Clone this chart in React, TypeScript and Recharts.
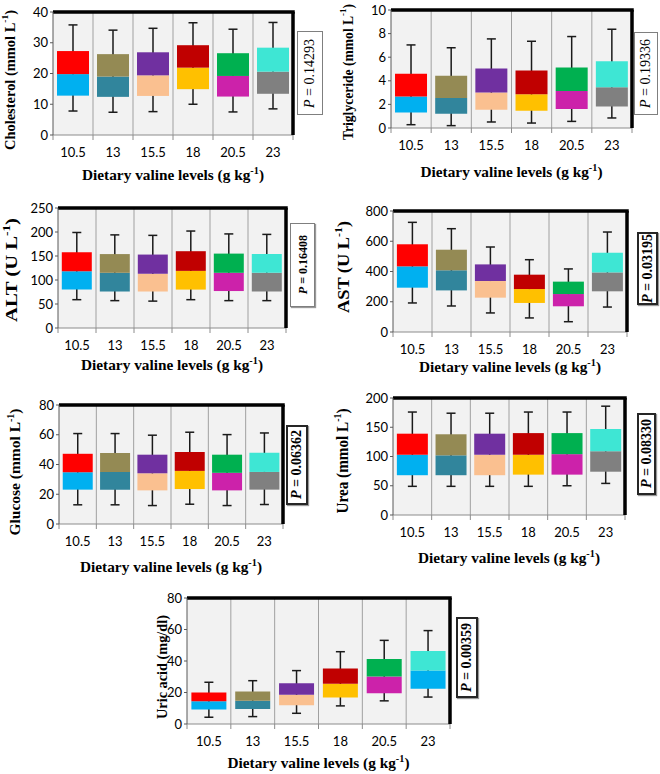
import React from "react";
import { Bar, CartesianGrid, Cell, ComposedChart, ReferenceArea, XAxis, YAxis } from "recharts";

const levels = ["10.5", "13", "15.5", "18", "20.5", "23"];
const upperColors = ["#ff0000", "#948a54", "#7030a0", "#c00000", "#00b050", "#3ee6d4"];
const lowerColors = ["#00b0f0", "#31859c", "#fac090", "#ffc000", "#cc22aa", "#808080"];
const uricLowerColors = ["#00b0f0", "#31859c", "#fac090", "#ffc000", "#cc22aa", "#00b0f0"];

// Cholesterol (mmol L-1)
const cholMin = [7.8, 7.4, 7.6, 10.0, 7.5, 8.5];
const cholQ1 = [12.8, 12.4, 12.7, 14.9, 12.5, 13.4];
const cholMed = [19.8, 19.0, 19.4, 21.9, 19.2, 20.6];
const cholQ3 = [27.3, 26.3, 26.9, 29.2, 26.6, 28.4];
const cholMax = [35.8, 34.1, 34.7, 36.5, 34.4, 36.6];

// Triglyceride (mmol L-1)
const trigMin = [0.28, 0.2, 0.51, 0.42, 0.56, 0.85];
const trigQ1 = [1.32, 1.21, 1.55, 1.46, 1.6, 1.83];
const trigMed = [2.68, 2.54, 3.01, 2.87, 3.13, 3.46];
const trigQ3 = [4.6, 4.42, 5.04, 4.87, 5.13, 5.66];
const trigMax = [7.04, 6.8, 7.55, 7.35, 7.75, 8.37];

// ALT (U L-1)
const altMin = [59, 57, 56, 59, 57, 57];
const altQ1 = [80, 76, 76, 80, 77, 76];
const altMed = [118, 115, 113, 119, 115, 115];
const altQ3 = [158, 154, 153, 160, 155, 154];
const altMax = [199, 194, 193, 202, 196, 195];

// AST (U L-1)
const astMin = [192, 172, 126, 93, 68, 165];
const astQ1 = [293, 275, 227, 192, 170, 269];
const astMed = [434, 408, 337, 284, 251, 394];
const astQ3 = [580, 544, 447, 379, 333, 524];
const astMax = [725, 683, 562, 478, 417, 661];

// Glucose (mmol L-1)
const gluMin = [12.9, 12.9, 12.4, 13.3, 12.4, 13.1];
const gluQ1 = [23.1, 23.1, 22.6, 23.5, 22.6, 23.1];
const gluMed = [34.8, 35.0, 34.1, 35.7, 34.4, 35.0];
const gluQ3 = [47.2, 47.7, 46.6, 48.4, 46.6, 47.9];
const gluMax = [60.8, 60.8, 59.7, 61.7, 60.1, 61.2];

// Urea (mmol L-1)
const ureaMin = [49, 49, 49, 49, 50, 54];
const ureaQ1 = [68, 68, 68, 69, 69, 74];
const ureaMed = [103, 102, 103, 103, 104, 109];
const ureaQ3 = [139, 138, 139, 140, 140, 147];
const ureaMax = [176, 174, 174, 176, 176, 186];

// Uric acid (mg/dl)
const uricMin = [4.3, 4.7, 6.8, 11.5, 14.7, 17.1];
const uricQ1 = [9.2, 9.6, 11.9, 16.9, 19.6, 22.4];
const uricMed = [14.5, 14.7, 18.6, 25.6, 30.1, 33.9];
const uricQ3 = [20.0, 20.7, 25.8, 35.2, 41.2, 46.3];
const uricMax = [26.5, 27.5, 33.9, 45.9, 53.1, 59.3];

const cholTicks = [0, 10, 20, 30, 40];
const trigTicks = [0, 2, 4, 6, 8, 10];
const altTicks = [0, 50, 100, 150, 200, 250];
const astTicks = [0, 200, 400, 600, 800];
const gluTicks = [0, 20, 40, 60, 80];
const ureaTicks = [0, 50, 100, 150, 200];
const uricTicks = [0, 20, 40, 60, 80];

const pValues = ["0.14293", "0.19336", "0.16408", "0.03195", "0.06362", "0.08330", "0.00359"];

const xTitle = "Dietary valine levels (g kg";
const serif = "'Liberation Serif', 'Times New Roman', serif";
const sans = "Lato, 'Open Sans', sans-serif";

function Whisker(props: any) {
  const { x, y, width, height } = props;
  if (x == null || y == null) return null;
  const cx = x + width / 2;
  const top = Math.min(y, y + height);
  const bottom = Math.max(y, y + height);
  return (
    <g stroke="#1a1a1a" strokeWidth={1.5}>
      <line x1={cx} x2={cx} y1={top} y2={bottom} />
      <line x1={cx - 4.5} x2={cx + 4.5} y1={top} y2={top} />
      <line x1={cx - 4.5} x2={cx + 4.5} y1={bottom} y2={bottom} />
    </g>
  );
}

// plot frame: category separators, bottom axis with boundary ticks, thick top/right border
function Frame(props: any) {
  const { x, y, width, height } = props;
  if (x == null || y == null) return null;
  const bottom = y + height;
  const n = levels.length;
  const xs = Array.from({ length: n + 1 }, (_, i) => x + (width * i) / n);
  return (
    <g>
      {xs.slice(1, n).map((sx, i) => (
        <line key={"s" + i} x1={sx} x2={sx} y1={y} y2={bottom} stroke="#a0a0a0" strokeWidth={1} />
      ))}
      <line x1={x} x2={x + width} y1={bottom} y2={bottom} stroke="#8c8c8c" strokeWidth={1} />
      {xs.map((sx, i) => (
        <line key={"t" + i} x1={sx} x2={sx} y1={bottom} y2={bottom + 5} stroke="#8c8c8c" strokeWidth={1} />
      ))}
      <line x1={x} x2={x + width + 1.75} y1={y} y2={y} stroke="#000" strokeWidth={3.5} />
      <line x1={x + width} x2={x + width} y1={y} y2={bottom} stroke="#000" strokeWidth={3.5} />
    </g>
  );
}

type Panel = {
  min: number[];
  q1: number[];
  med: number[];
  q3: number[];
  max: number[];
  ticks: number[];
  lower: string[];
  title: string;
  sup: boolean;
  titleSize: number;
  titleLen: number;
  titleY: number;
  p: string;
  pSize: number;
  pBold: boolean;
  pBorder: string;
  // layout
  L: number;
  T: number;
  R: number;
  B: number;
  chartLeft: number;
  titleX: number;
  xTitleOff: number;
  box: [number, number, number, number];
};

const panels: Panel[] = [
  {
    min: cholMin, q1: cholQ1, med: cholMed, q3: cholQ3, max: cholMax, ticks: cholTicks, lower: lowerColors,
    title: "Cholesterol (mmol L", sup: true, titleSize: 14, titleLen: 140, titleY: 80,
    p: pValues[0], pSize: 14, pBold: false, pBorder: "1px solid #7f7f7f",
    L: 53, T: 12, R: 293, B: 135, chartLeft: 0, titleX: 10, xTitleOff: 40, box: [297, 31, 26, 84],
  },
  {
    min: trigMin, q1: trigQ1, med: trigMed, q3: trigQ3, max: trigMax, ticks: trigTicks, lower: lowerColors,
    title: "Triglyceride (mmol L", sup: true, titleSize: 14, titleLen: 136, titleY: 72,
    p: pValues[1], pSize: 14, pBold: false, pBorder: "1px solid #7f7f7f",
    L: 391, T: 10, R: 632, B: 128, chartLeft: 332, titleX: 348, xTitleOff: 44, box: [634, 32, 24, 83],
  },
  {
    min: altMin, q1: altQ1, med: altMed, q3: altQ3, max: altMax, ticks: altTicks, lower: lowerColors,
    title: "ALT (U L", sup: true, titleSize: 17, titleLen: 104, titleY: 270,
    p: pValues[2], pSize: 12, pBold: true, pBorder: "1px solid #7f7f7f",
    L: 58, T: 208, R: 286, B: 328, chartLeft: 0, titleX: 11, xTitleOff: 37, box: [290, 223, 25, 84],
  },
  {
    min: astMin, q1: astQ1, med: astMed, q3: astQ3, max: astMax, ticks: astTicks, lower: lowerColors,
    title: "AST (U L", sup: true, titleSize: 17, titleLen: 92, titleY: 267,
    p: pValues[3], pSize: 14, pBold: true, pBorder: "2px solid #262626",
    L: 393, T: 211, R: 627, B: 332, chartLeft: 332, titleX: 343, xTitleOff: 35, box: [637, 232, 21, 73],
  },
  {
    min: gluMin, q1: gluQ1, med: gluMed, q3: gluQ3, max: gluMax, ticks: gluTicks, lower: lowerColors,
    title: "Glucose (mmol L", sup: true, titleSize: 15, titleLen: 127, titleY: 472,
    p: pValues[4], pSize: 14, pBold: true, pBorder: "2px solid #262626",
    L: 59, T: 405, R: 283, B: 524, chartLeft: 0, titleX: 15, xTitleOff: 43, box: [286, 425, 22, 80],
  },
  {
    min: ureaMin, q1: ureaQ1, med: ureaMed, q3: ureaQ3, max: ureaMax, ticks: ureaTicks, lower: lowerColors,
    title: "Urea (mmol L", sup: true, titleSize: 16, titleLen: 105, titleY: 461,
    p: pValues[5], pSize: 14, pBold: true, pBorder: "2px solid #262626",
    L: 393, T: 398, R: 625, B: 515, chartLeft: 332, titleX: 342, xTitleOff: 43, box: [637, 413, 19, 82],
  },
  {
    min: uricMin, q1: uricQ1, med: uricMed, q3: uricQ3, max: uricMax, ticks: uricTicks, lower: uricLowerColors,
    title: "Uric acid (mg/dl)", sup: false, titleSize: 14, titleLen: 104, titleY: 667,
    p: pValues[6], pSize: 14, pBold: true, pBorder: "2px solid #262626",
    L: 187, T: 598, R: 450, B: 724, chartLeft: 150, titleX: 162, xTitleOff: 39, box: [456, 617, 22, 81],
  },
];

const MARGIN_TOP = 10;
const MARGIN_RIGHT = 6;
const X_AXIS_H = 54;

function BoxPanel({ p }: { p: Panel }) {
  const rows = levels.map((level, i) => ({
    level,
    base: p.q1[i],
    lower: p.med[i] - p.q1[i],
    upper: p.q3[i] - p.med[i],
    whisker: [p.min[i], p.max[i]],
  }));
  const yAxisW = p.L - p.chartLeft;
  const chartTop = p.T - MARGIN_TOP;
  const width = p.R + MARGIN_RIGHT - p.chartLeft;
  const height = p.B + X_AXIS_H - chartTop;
  const plotH = p.B - p.T;
  const plotW = p.R - p.L;
  const yMax = p.ticks[p.ticks.length - 1];

  const yTitle = () => {
    const cx = p.titleX - p.chartLeft;
    const cy = p.titleY - chartTop;
    return (
      <text
        x={cx}
        y={cy}
        transform={`rotate(-90 ${cx} ${cy})`}
        textAnchor="middle"
        dominantBaseline="central"
        fontFamily={serif}
        fontWeight="bold"
        fontSize={p.titleSize}
        textLength={p.titleLen}
        lengthAdjust="spacingAndGlyphs"
        fill="#000"
      >
        {p.title}
        {p.sup && (
          <>
            <tspan dy={-5} fontSize={p.titleSize * 0.65}>-1</tspan>
            <tspan dy={5}>)</tspan>
          </>
        )}
      </text>
    );
  };

  const xTitleLabel = () => {
    const cx = yAxisW + plotW / 2;
    const cy = MARGIN_TOP + plotH + p.xTitleOff;
    return (
      <text
        x={cx}
        y={cy}
        textAnchor="middle"
        dominantBaseline="central"
        fontFamily={serif}
        fontWeight="bold"
        fontSize={15}
        textLength={182}
        lengthAdjust="spacingAndGlyphs"
        fill="#000"
      >
        {xTitle}
        <tspan dy={-5} fontSize={10}>-1</tspan>
        <tspan dy={5}>)</tspan>
      </text>
    );
  };

  return (
    <div style={{ position: "absolute", left: p.chartLeft, top: chartTop }}>
      <ComposedChart
        width={width}
        height={height}
        data={rows}
        margin={{ top: MARGIN_TOP, right: MARGIN_RIGHT, left: 0, bottom: 0 }}
        barCategoryGap="10%"
      >
        <CartesianGrid xAxisId="cat" horizontal={false} vertical={false} fill="#f2f2f2" />
        <XAxis
          xAxisId="cat"
          dataKey="level"
          height={X_AXIS_H}
          axisLine={false}
          tickLine={false}
          tickSize={0}
          tickMargin={13}
          interval={0}
          tick={{ fill: "#000", fontSize: 13, fontFamily: sans }}
          label={xTitleLabel}
        />
        <XAxis xAxisId="w" dataKey="level" hide />
        <YAxis
          width={yAxisW}
          domain={[0, yMax]}
          ticks={p.ticks}
          interval={0}
          tickSize={3}
          tickMargin={2}
          stroke="#595959"
          tick={{ fill: "#000", fontSize: 13, fontFamily: sans }}
          label={yTitle}
        />
        <ReferenceArea xAxisId="cat" y1={0} y2={yMax} shape={Frame} />
        <Bar xAxisId="w" dataKey="whisker" shape={Whisker} isAnimationActive={false} />
        <Bar xAxisId="cat" dataKey="base" stackId="box" fill="transparent" isAnimationActive={false} />
        <Bar xAxisId="cat" dataKey="lower" stackId="box" isAnimationActive={false}>
          {rows.map((r, i) => (
            <Cell key={r.level} fill={p.lower[i]} />
          ))}
        </Bar>
        <Bar xAxisId="cat" dataKey="upper" stackId="box" isAnimationActive={false}>
          {rows.map((r, i) => (
            <Cell key={r.level} fill={upperColors[i]} />
          ))}
        </Bar>
      </ComposedChart>
    </div>
  );
}

function PBox({ p }: { p: Panel }) {
  const [left, top, w, h] = p.box;
  return (
    <div
      style={{
        position: "absolute",
        left,
        top,
        width: w,
        height: h,
        boxSizing: "border-box",
        border: p.pBorder,
        background: "#fff",
        boxShadow: p.pBold ? "1px 1px 1px #999" : "none",
        display: "flex",
        alignItems: "center",
        justifyContent: "center",
        zIndex: 2,
      }}
    >
      <span
        style={{
          writingMode: "vertical-rl",
          transform: "rotate(180deg)",
          fontFamily: serif,
          fontSize: p.pSize,
          fontWeight: p.pBold ? "bold" : "normal",
          whiteSpace: "nowrap",
          lineHeight: 1,
        }}
      >
        <i>P</i> = {p.p}
      </span>
    </div>
  );
}

export default function App() {
  return (
    <div style={{ position: "absolute", left: 0, top: 0, width: 660, height: 774, background: "#fff", overflow: "hidden" }}>
      {panels.map((p) => (
        <BoxPanel key={p.title} p={p} />
      ))}
      {panels.map((p) => (
        <PBox key={p.title + "-p"} p={p} />
      ))}
    </div>
  );
}
